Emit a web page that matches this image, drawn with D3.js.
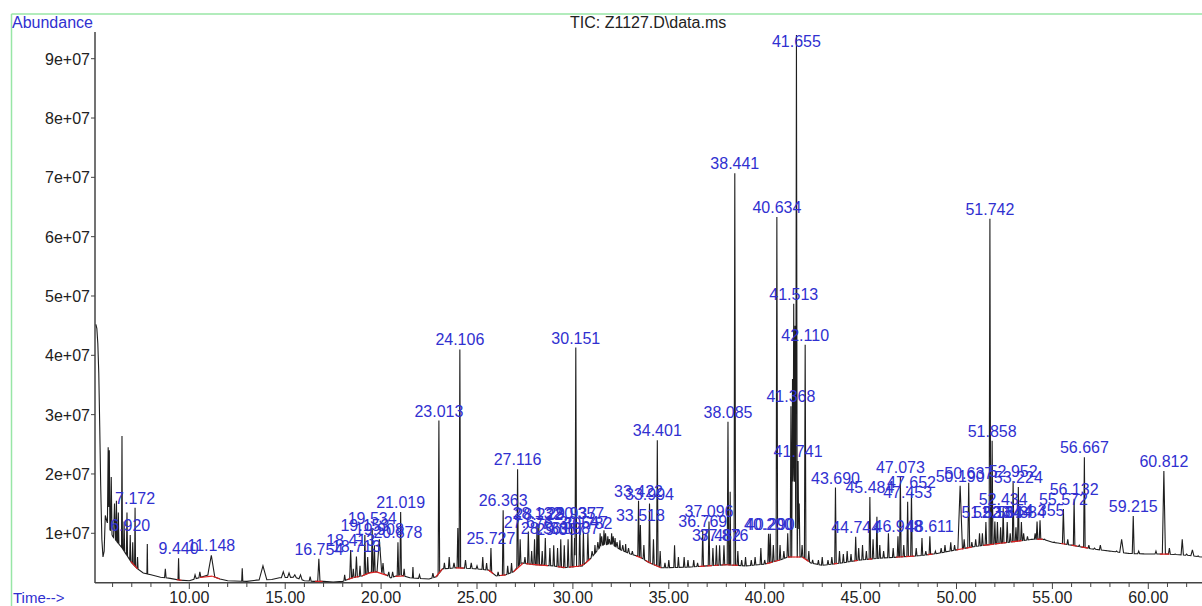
<!DOCTYPE html>
<html>
<head>
<meta charset="utf-8">
<script src="https://cdn.jsdelivr.net/npm/d3@7"></script>
<style>
  body { margin: 0; background: #fff; }
  svg { display: block; font-family: "Liberation Sans", Arial, sans-serif; }
</style>
</head>
<body>
<script>
// abundance values are in units of 1e7
var UNIT = 1e7

// trace floor (time in min, abundance)
var baseline = [
  [5.13,4.52],[5.18,4.45],[5.23,4.2],[5.28,3.7],[5.33,2.8],[5.38,1.8],[5.44,0.9],[5.5,0.6],
  [5.56,0.7],[5.62,1.3],[5.7,1.2],[6.0,0.95],[6.5,0.75],[7.0,0.5],[7.3,0.4],[7.6,0.33],
  [8.0,0.3],[8.5,0.26],[9.0,0.24],[9.5,0.21],[10.0,0.2],[10.5,0.25],[11.0,0.3],[11.6,0.23],
  [12.0,0.2],[13.0,0.19],[13.5,0.21],[14.3,0.22],[14.7,0.25],[15.5,0.26],[16.0,0.2],[16.5,0.19],
  [17.0,0.19],[17.5,0.18],[18.0,0.19],[18.5,0.25],[19.0,0.28],[19.5,0.35],[20.0,0.35],[20.5,0.25],
  [21.0,0.3],[21.5,0.25],[22.0,0.24],[22.5,0.23],[22.9,0.27],[23.2,0.4],[24.0,0.42],[25.0,0.4],
  [25.6,0.38],[26.0,0.28],[26.5,0.3],[26.9,0.35],[27.3,0.5],[28.0,0.47],[29.0,0.45],[29.5,0.42],
  [30.5,0.45],[31.0,0.6],[31.5,0.8],[32.0,0.82],[32.5,0.72],[33.0,0.65],[33.5,0.6],[34.0,0.5],
  [34.6,0.42],[35.0,0.42],[36.0,0.43],[37.0,0.45],[38.0,0.47],[39.0,0.45],[40.0,0.48],[40.8,0.55],
  [41.2,0.6],[42.0,0.6],[42.4,0.5],[43.0,0.46],[44.0,0.5],[45.0,0.55],[46.0,0.58],[47.0,0.6],
  [48.0,0.62],[49.0,0.66],[50.0,0.72],[51.0,0.78],[52.0,0.82],[53.0,0.86],[54.0,0.9],[54.5,0.9],
  [55.0,0.85],[56.0,0.8],[57.0,0.74],[58.0,0.7],[59.0,0.66],[60.0,0.65],[61.0,0.65],[62.0,0.63],
  [62.8,0.6]
]

// peaks: retention time, apex abundance, half width (min), labelled
var peaks = [
  [5.77,2.45,0.04,0],[5.83,2.4,0.03,0],[5.93,1.95,0.04,0],[6.1,1.5,0.05,0],[6.2,1.55,0.03,0],
  [6.3,1.35,0.03,0],[6.49,2.64,0.025,0],[6.6,1.2,0.03,0],[6.75,1.35,0.03,0],[6.920,0.97,0.03,1],
  [7.05,0.85,0.03,0],[7.172,1.43,0.025,1],[7.3,0.6,0.03,0],[7.81,0.82,0.02,0],[8.75,0.4,0.04,0],
  [9.440,0.58,0.03,1],[10.3,0.3,0.06,0],[10.55,0.35,0.05,0],[11.148,0.63,0.18,1],[12.76,0.41,0.03,0],
  [13.84,0.45,0.2,0],[14.9,0.35,0.1,0],[15.2,0.33,0.08,0],[15.5,0.3,0.08,0],[15.8,0.3,0.08,0],
  [16.3,0.27,0.05,0],[16.754,0.57,0.06,1],[18.1,0.3,0.04,0],[18.413,0.72,0.05,1],[18.55,0.4,0.04,0],
  [18.713,0.61,0.05,1],[18.9,0.45,0.04,0],[19.153,0.97,0.04,1],[19.3,0.6,0.04,0],[19.534,1.09,0.04,1],
  [19.65,0.8,0.04,0],[19.908,0.9,0.12,1],[20.1,0.5,0.05,0],[20.4,0.35,0.05,0],[20.6,0.35,0.05,0],
  [20.878,0.85,0.04,1],[21.019,1.36,0.04,1],[21.2,0.4,0.04,0],[21.66,0.43,0.03,0],[22.0,0.3,0.05,0],
  [22.7,0.33,0.05,0],[23.013,2.9,0.04,1],[23.3,0.5,0.04,0],[23.55,0.6,0.04,0],[23.8,0.5,0.05,0],
  [24.0,1.09,0.04,0],[24.106,4.1,0.04,1],[24.4,0.55,0.05,0],[24.7,0.5,0.05,0],[25.0,0.45,0.05,0],
  [25.3,0.6,0.04,0],[25.5,0.5,0.04,0],[25.727,0.75,0.04,1],[26.1,0.35,0.04,0],[26.363,1.39,0.04,1],
  [26.6,0.45,0.04,0],[26.8,0.5,0.04,0],[27.116,2.08,0.04,1],[27.25,0.9,0.04,0],[27.5,0.6,0.04,0],
  [27.676,1.03,0.04,1],[27.85,0.7,0.04,0],[28.0,0.9,0.04,0],[28.132,1.17,0.04,1],[28.222,1.15,0.04,1],
  [28.4,0.7,0.04,0],[28.561,0.92,0.04,1],[28.8,0.75,0.04,0],[29.0,0.8,0.04,0],[29.2,0.75,0.04,0],
  [29.367,0.9,0.04,1],[29.55,0.8,0.04,0],[29.75,0.9,0.04,0],[29.937,1.17,0.04,1],[30.087,0.92,0.04,1],
  [30.151,4.13,0.04,1],[30.357,1.17,0.04,1],[30.547,1.03,0.04,1],[30.782,1.0,0.04,1],[31.0,0.7,0.05,0],
  [31.15,0.8,0.03,0],[31.3,0.85,0.05,0],[31.42,1.0,0.03,0],[31.5,0.95,0.05,0],[31.62,1.05,0.03,0],
  [31.7,1.0,0.05,0],[31.82,0.95,0.03,0],[31.9,0.9,0.05,0],[32.02,1.0,0.03,0],[32.1,0.95,0.05,0],
  [32.2,0.92,0.03,0],[32.3,0.85,0.05,0],[32.45,0.88,0.03,0],[32.6,0.8,0.05,0],[32.75,0.82,0.03,0],
  [32.9,0.75,0.05,0],[33.1,0.7,0.04,0],[33.422,1.55,0.04,1],
  [33.518,1.14,0.04,1],[33.7,0.8,0.04,0],[33.994,1.5,0.04,1],[34.2,0.9,0.04,0],[34.401,2.57,0.04,1],
  [34.55,0.7,0.04,0],[34.8,0.5,0.04,0],[35.0,0.55,0.04,0],[35.3,0.8,0.04,0],[35.5,0.6,0.04,0],
  [35.8,0.6,0.04,0],[36.0,0.55,0.04,0],[36.3,0.55,0.04,0],[36.5,0.5,0.04,0],[36.769,1.04,0.04,1],
  [37.096,1.2,0.04,1],[37.3,0.75,0.04,0],[37.482,0.8,0.04,1],[37.65,0.8,0.04,0],[37.876,0.8,0.04,1],
  [38.085,2.88,0.04,1],[38.2,1.7,0.03,0],[38.441,7.07,0.04,1],[38.6,0.7,0.04,0],[38.8,0.55,0.04,0],
  [39.0,0.6,0.04,0],[39.3,0.55,0.04,0],[39.5,0.6,0.04,0],[39.8,0.75,0.04,0],[40.0,0.55,0.04,0],
  [40.200,0.99,0.04,1],[40.290,0.99,0.04,1],[40.45,0.8,0.04,0],[40.634,6.33,0.04,1],[40.8,0.8,0.04,0],
  [41.0,0.7,0.04,0],[41.2,1.0,0.04,0],[41.368,3.14,0.04,1],[41.45,3.6,0.04,0],[41.513,4.87,0.04,1],
  [41.58,4.5,0.04,0],[41.655,9.4,0.04,1],[41.741,2.22,0.04,1],[41.8,1.5,0.04,0],[41.95,0.8,0.04,0],
  [42.110,4.18,0.04,1],[42.3,0.7,0.04,0],[42.5,0.55,0.04,0],[42.8,0.55,0.04,0],[43.0,0.6,0.04,0],
  [43.3,0.55,0.04,0],[43.5,0.6,0.04,0],[43.690,1.77,0.04,1],[43.9,0.7,0.04,0],[44.1,0.65,0.04,0],
  [44.3,0.7,0.04,0],[44.5,0.65,0.04,0],[44.744,0.94,0.04,1],[44.9,0.75,0.04,0],[45.1,0.8,0.04,0],
  [45.3,0.7,0.04,0],[45.484,1.61,0.04,1],[45.65,0.9,0.04,0],[45.85,1.28,0.04,0],[46.0,0.8,0.04,0],
  [46.2,0.7,0.04,0],[46.45,1.0,0.04,0],[46.7,0.75,0.04,0],[46.948,0.95,0.04,1],[47.073,1.95,0.04,1],
  [47.25,0.8,0.04,0],[47.453,1.53,0.04,1],[47.652,1.7,0.04,1],[47.9,0.75,0.04,0],[48.2,0.92,0.04,0],
  [48.4,0.7,0.04,0],[48.611,0.95,0.04,1],[48.9,0.7,0.04,0],[49.2,0.75,0.04,0],[49.4,0.8,0.04,0],
  [49.7,0.85,0.04,0],[49.9,0.8,0.04,0],[50.190,1.8,0.12,1],[50.4,0.9,0.04,0],[50.637,1.85,0.05,1],
  [50.8,0.85,0.04,0],[51.0,0.9,0.04,0],[51.2,1.0,0.04,0],[51.35,1.0,0.04,0],[51.533,1.19,0.04,1],
  [51.742,6.3,0.04,1],[51.858,2.56,0.04,1],[52.0,1.2,0.04,0],[52.134,1.19,0.04,1],[52.3,1.1,0.04,0],
  [52.434,1.41,0.04,1],[52.644,1.19,0.04,1],[52.8,1.0,0.04,0],[52.952,1.88,0.04,1],[53.1,1.1,0.04,0],
  [53.224,1.78,0.04,1],[53.384,1.19,0.04,1],[53.5,1.0,0.04,0],[53.7,0.95,0.04,0],[53.9,0.9,0.04,0],
  [54.1,1.0,0.04,0],[54.2,1.2,0.04,0],[54.355,1.22,0.04,1],[54.6,0.9,0.04,0],[54.8,0.85,0.04,0],
  [55.1,0.85,0.04,0],[55.3,0.8,0.04,0],[55.572,1.41,0.05,1],[55.8,0.9,0.04,0],[56.132,1.58,0.04,1],
  [56.4,0.8,0.04,0],[56.667,2.28,0.04,1],[56.9,0.8,0.04,0],[57.2,0.75,0.05,0],[57.5,0.8,0.05,0],
  [57.8,0.7,0.05,0],[58.1,0.65,0.05,0],[58.35,0.7,0.05,0],[58.61,0.9,0.1,0],[58.9,0.65,0.05,0],
  [59.215,1.29,0.05,1],[59.5,0.7,0.05,0],[59.8,0.65,0.05,0],[60.1,0.65,0.05,0],[60.4,0.7,0.05,0],
  [60.812,2.05,0.08,1],[61.1,0.75,0.05,0],[61.4,0.65,0.05,0],[61.77,0.9,0.06,0],[62.0,0.65,0.05,0],
  [62.3,0.72,0.08,0],[62.6,0.62,0.05,0]
]

// integration baselines (start, end in min)
var integrations = [
  [6.95,7.3],[9.35,9.6],[10.55,11.2],[11.2,11.6],[16.55,16.95],[18.25,18.55],[18.6,18.85],
  [19.0,19.35],[19.35,19.75],[19.75,20.3],[20.75,21.2],[22.85,23.2],[23.9,24.3],[25.6,25.85],
  [26.2,26.5],[26.9,27.4],[27.55,27.9],[27.9,28.3],[28.3,28.7],[29.2,29.6],[29.8,30.3],[30.3,30.6],
  [30.65,30.9],[33.3,33.6],[33.8,34.1],[34.2,34.6],[36.6,36.9],[37.0,37.25],[37.35,37.6],
  [37.75,38.0],[38.0,38.25],[38.3,38.6],[40.1,40.4],[40.5,40.8],[41.2,41.45],[41.45,41.6],
  [41.6,41.85],[41.95,42.3],[43.6,43.8],[44.65,44.85],[45.4,45.6],[46.85,47.0],[47.0,47.25],
  [47.35,47.55],[47.55,47.8],[48.5,48.75],[50.0,50.4],[50.5,50.8],[51.4,51.65],[51.65,51.95],
  [52.0,52.3],[52.3,52.6],[52.85,53.1],[53.1,53.4],[54.2,54.5],[55.45,55.7],[56.0,56.3],
  [56.5,56.85],[60.6,61.1]
]

var yTicks = [1,2,3,4,5,6,7,8,9]
var yTickLabels = ["1e+07","2e+07","3e+07","4e+07","5e+07","6e+07","7e+07","8e+07","9e+07"]
var xMajor = [10,15,20,25,30,35,40,45,50,55,60]
var xMajorLabels = ["10.00","15.00","20.00","25.00","30.00","35.00","40.00","45.00","50.00","55.00","60.00"]
var xMinor = d3.range(6, 63)

var title = "TIC: Z1127.D\\data.ms"

var width = 1202, height = 606
var xScale = d3.scaleLinear().domain([5.083, 62.80]).range([95, 1202])
var yScale = d3.scaleLinear().domain([0.167, 9.45]).range([582.7, 32])

var blue = "#3030d0"

var baseAt = function(t)
{
  var i = d3.bisector(function(d){return d[0]}).left(baseline, t)
  if (i <= 0) {return baseline[0][1]}
  if (i >= baseline.length) {return baseline[baseline.length-1][1]}
  var a = baseline[i-1], b = baseline[i]
  return a[1] + (b[1]-a[1]) * (t-a[0]) / (b[0]-a[0])
}

var traceAt = function(t)
{
  var b = baseAt(t)
  var v = b
  peaks.forEach(function(p)
  {
    var dt = Math.abs(t - p[0])
    if (dt < p[2])
    {
      var rise = p[1] - baseAt(p[0])
      v = Math.max(v, b + rise * (1 - dt/p[2]))
    }
  })
  return v
}

// vertices: baseline points plus the foot and apex of each peak
var times = baseline.map(function(d){return d[0]})
peaks.forEach(function(p)
{
  times.push(p[0]-p[2], p[0], p[0]+p[2])
})
times = Array.from(new Set(times)).filter(function(t){return t >= 5.13}).sort(function(a,b){return a-b})
var trace = times.map(function(t){return [t, traceAt(t)]})

var svg = d3.select("body").append("svg")
  .attr("width", width)
  .attr("height", height)

// green frame
svg.append("line").attr("x1", 11.5).attr("x2", width).attr("y1", 14).attr("y2", 14)
  .attr("stroke", "#98e6a6").attr("stroke-width", 1.5)
svg.append("line").attr("x1", 11.5).attr("x2", 11.5).attr("y1", 14).attr("y2", height)
  .attr("stroke", "#98e6a6").attr("stroke-width", 1.5)

// axes
var axisColor = "#444"
svg.append("line").attr("x1", 95).attr("x2", 95).attr("y1", 32).attr("y2", 583)
  .attr("stroke", axisColor).attr("stroke-width", 1.5)
svg.append("line").attr("x1", 95).attr("x2", width).attr("y1", 582.7).attr("y2", 582.7)
  .attr("stroke", axisColor).attr("stroke-width", 1.5)

svg.append("g").selectAll("line")
  .data(yTicks)
  .join("line")
  .attr("x1", 91).attr("x2", 95)
  .attr("y1", d => yScale(d)).attr("y2", d => yScale(d))
  .attr("stroke", axisColor)

svg.append("g").selectAll("text")
  .data(yTicks)
  .join("text")
  .attr("x", 90)
  .attr("y", d => yScale(d) + 6)
  .attr("text-anchor", "end")
  .attr("font-size", 16)
  .attr("fill", "#222")
  .text((d,i) => yTickLabels[i])

svg.append("g").selectAll("line")
  .data(xMinor)
  .join("line")
  .attr("x1", d => xScale(d)).attr("x2", d => xScale(d))
  .attr("y1", 582.7).attr("y2", d => d % 5 == 0 ? 589 : 587)
  .attr("stroke", axisColor)

svg.append("g").selectAll("text")
  .data(xMajor)
  .join("text")
  .attr("x", d => xScale(d))
  .attr("y", 603)
  .attr("text-anchor", "middle")
  .attr("font-size", 16)
  .attr("fill", "#222")
  .text((d,i) => xMajorLabels[i])

// chromatogram
var line = d3.line()
  .x(d => xScale(d[0]))
  .y(d => yScale(d[1]))

svg.append("path")
  .datum(trace)
  .attr("d", line)
  .attr("fill", "none")
  .attr("stroke", "#1e1e1e")
  .attr("stroke-width", 1.1)

svg.append("g").selectAll("line")
  .data(integrations)
  .join("line")
  .attr("x1", d => xScale(d[0])).attr("x2", d => xScale(d[1]))
  .attr("y1", d => yScale(baseAt(d[0]))).attr("y2", d => yScale(baseAt(d[1])))
  .attr("stroke", "#e02020")
  .attr("stroke-width", 1.2)

// peak labels
var fmt = d3.format(".3f")
svg.append("g").selectAll("text")
  .data(peaks.filter(p => p[3]))
  .join("text")
  .attr("x", d => xScale(d[0]))
  .attr("y", d => Math.max(47, yScale(d[1]) - 4))
  .attr("text-anchor", "middle")
  .attr("font-size", 16)
  .attr("fill", blue)
  .text(d => fmt(d[0]))

svg.append("text").attr("x", 12).attr("y", 28)
  .attr("font-size", 16).attr("fill", blue).text("Abundance")
svg.append("text").attr("x", 13).attr("y", 603)
  .attr("font-size", 15).attr("fill", blue).text("Time-->")
svg.append("text").attr("x", 570).attr("y", 28)
  .attr("font-size", 16).attr("fill", "#222").text(title)
</script>
</body>
</html>
